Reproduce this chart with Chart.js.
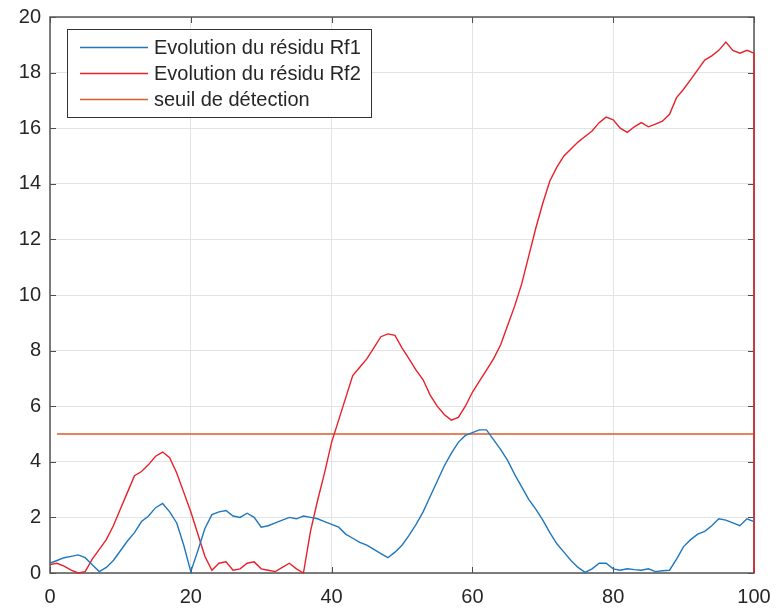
<!DOCTYPE html>
<html>
<head>
<meta charset="utf-8">
<script src="https://cdn.jsdelivr.net/npm/chart.js@4/dist/chart.umd.min.js"></script>
<style>
  html, body { margin: 0; padding: 0; background: #fff; }
  #wrap { width: 776px; height: 610px; }
</style>
</head>
<body>
<div id="wrap"><canvas id="myChart" width="776" height="610"></canvas></div>
<script>
// residu Rf1, one value per x = 0..100
var rf1 = [
  0.35, 0.45, 0.55, 0.6, 0.65, 0.55, 0.3, 0.05, 0.2, 0.45,
  0.8, 1.15, 1.45, 1.85, 2.05, 2.35, 2.5, 2.2, 1.8, 1.0,
  0.05, 0.8, 1.6, 2.1, 2.2, 2.25, 2.05, 2.0, 2.15, 2.0,
  1.65, 1.7, 1.8, 1.9, 2.0, 1.95, 2.05, 2.0, 1.95, 1.85,
  1.75, 1.65, 1.4, 1.25, 1.1, 1.0, 0.85, 0.7, 0.55, 0.75,
  1.0, 1.35, 1.75, 2.2, 2.75, 3.3, 3.85, 4.3, 4.7, 4.95,
  5.05, 5.15, 5.15, 4.8, 4.45, 4.05, 3.55, 3.1, 2.65, 2.3,
  1.9, 1.45, 1.05, 0.75, 0.45, 0.2, 0.02, 0.15, 0.35, 0.35,
  0.15, 0.1, 0.15, 0.12, 0.1, 0.15, 0.05, 0.08, 0.1, 0.5,
  0.95, 1.2, 1.4, 1.5, 1.7, 1.95, 1.9, 1.8, 1.7, 1.95,
  1.85
];

// residu Rf2, one value per x = 0..100
var rf2 = [
  0.3, 0.35, 0.25, 0.1, 0.0, 0.05, 0.5, 0.85, 1.2, 1.7,
  2.3, 2.9, 3.5, 3.65, 3.9, 4.2, 4.35, 4.15, 3.6, 2.9,
  2.2, 1.4, 0.6, 0.1, 0.35, 0.4, 0.1, 0.15, 0.35, 0.4,
  0.15, 0.1, 0.05, 0.2, 0.35, 0.15, 0.0, 1.5, 2.6, 3.6,
  4.7, 5.5, 6.3, 7.1, 7.4, 7.7, 8.1, 8.5, 8.6, 8.55,
  8.1, 7.7, 7.3, 6.95, 6.4, 6.0, 5.7, 5.5, 5.6, 6.0,
  6.5, 6.9, 7.3, 7.7, 8.2, 8.9, 9.6, 10.4, 11.4, 12.4,
  13.3, 14.1, 14.6, 15.0, 15.25, 15.5, 15.7, 15.9, 16.2, 16.4,
  16.3, 16.0, 15.85, 16.05, 16.2, 16.05, 16.15, 16.25, 16.5, 17.1,
  17.4, 17.75, 18.1, 18.45, 18.6, 18.8, 19.1, 18.8, 18.7, 18.8,
  18.7
];
// the Rf2 trace ends with a drop to zero at x = 100
var rf2End = [100, 0];

// seuil de detection
var seuil = 5;
var seuilX = [1, 100];

var xTicks = [0, 20, 40, 60, 80, 100];
var yTicks = [0, 2, 4, 6, 8, 10, 12, 14, 16, 18, 20];

var labels = ['Evolution du résidu Rf1', 'Evolution du résidu Rf2', 'seuil de détection'];
var colors = ['#1f77bd', '#e8202a', '#de5a2a'];

var txt = '#262626';
var fontFam = '"Liberation Sans", Arial, Helvetica, sans-serif';

var pts1 = rf1.map(function(v, i) { return { x: i, y: v }; });
var pts2 = rf2.map(function(v, i) { return { x: i, y: v }; });
pts2.push({ x: rf2End[0], y: rf2End[1] });
var ptsS = seuilX.map(function(v) { return { x: v, y: seuil }; });

// box around the plot + ticks pointing inward (matlab style)
var boxPlugin = {
  id: 'box',
  beforeDatasetsDraw: function(chart) {
    var ctx = chart.ctx, a = chart.chartArea;
    var xs = chart.scales.x, ys = chart.scales.y;
    ctx.save();
    ctx.strokeStyle = '#4d4d4d';
    ctx.lineWidth = 1;
    ctx.beginPath();
    xTicks.forEach(function(v) {
      var p = Math.round(xs.getPixelForValue(v)) + 0.5;
      ctx.moveTo(p, a.bottom); ctx.lineTo(p, a.bottom - 6);
      ctx.moveTo(p, a.top); ctx.lineTo(p, a.top + 6);
    });
    yTicks.forEach(function(v) {
      var p = Math.round(ys.getPixelForValue(v)) + 0.5;
      ctx.moveTo(a.left, p); ctx.lineTo(a.left + 6, p);
      ctx.moveTo(a.right, p); ctx.lineTo(a.right - 6, p);
    });
    ctx.stroke();
    ctx.strokeStyle = '#555';
    ctx.lineWidth = 1.5;
    ctx.strokeRect(a.left, a.top, a.right - a.left, a.bottom - a.top);
    ctx.restore();
  },
  afterDatasetsDraw: function(chart) {
    // legend in upper left corner
    var ctx = chart.ctx;
    var bx = 67, by = 29, bw = 304, bh = 88;
    ctx.save();
    ctx.fillStyle = '#fff';
    ctx.fillRect(bx, by, bw, bh);
    ctx.strokeStyle = '#333';
    ctx.lineWidth = 1;
    ctx.strokeRect(bx + 0.5, by + 0.5, bw, bh);
    ctx.font = '20px ' + fontFam;
    ctx.textBaseline = 'middle';
    chart.data.datasets.forEach(function(ds, i) {
      var yy = 47 + i * 26;
      ctx.strokeStyle = ds.borderColor;
      ctx.lineWidth = 1.4;
      ctx.beginPath();
      ctx.moveTo(80, yy + 0.5); ctx.lineTo(148, yy + 0.5);
      ctx.stroke();
      ctx.fillStyle = txt;
      ctx.fillText(ds.label, 154, yy + 1);
    });
    ctx.restore();
  }
};

var bgPlugin = {
  id: 'bg',
  beforeDraw: function(chart) {
    var ctx = chart.ctx;
    ctx.save();
    ctx.fillStyle = '#fff';
    ctx.fillRect(0, 0, chart.width, chart.height);
    ctx.restore();
  }
};

var ctx = document.getElementById('myChart').getContext('2d');
var chart = new Chart(ctx, {
  type: 'line',
  data: {
    datasets: [
      { label: labels[0], data: pts1, borderColor: colors[0], borderWidth: 1.4, clip: 4 },
      { label: labels[1], data: pts2, borderColor: colors[1], borderWidth: 1.4, clip: 4 },
      { label: labels[2], data: ptsS, borderColor: colors[2], borderWidth: 1.4, clip: 4 }
    ]
  },
  options: {
    responsive: false,
    animation: false,
    layout: { padding: { top: 17, right: 22, left: 0, bottom: 0 } },
    elements: { point: { radius: 0 }, line: { tension: 0, fill: false } },
    plugins: { legend: { display: false }, tooltip: { enabled: false } },
    scales: {
      x: {
        type: 'linear', min: 0, max: 100,
        afterFit: function(s) { s.height = 37; s.paddingLeft = 0; s.paddingRight = 0; },
        afterBuildTicks: function(s) { s.ticks = xTicks.map(function(v) { return { value: v }; }); },
        grid: { color: '#e3e3e3', drawTicks: false },
        border: { display: false },
        ticks: { color: txt, font: { family: fontFam, size: 20 }, padding: 12, maxRotation: 0 }
      },
      y: {
        min: 0, max: 20,
        afterFit: function(s) { s.width = 50; s.paddingTop = 0; s.paddingBottom = 0; },
        afterBuildTicks: function(s) { s.ticks = yTicks.map(function(v) { return { value: v }; }); },
        grid: { color: '#e3e3e3', drawTicks: false },
        border: { display: false },
        ticks: { color: txt, font: { family: fontFam, size: 20 }, padding: 9 }
      }
    }
  },
  plugins: [bgPlugin, boxPlugin]
});
</script>
</body>
</html>
